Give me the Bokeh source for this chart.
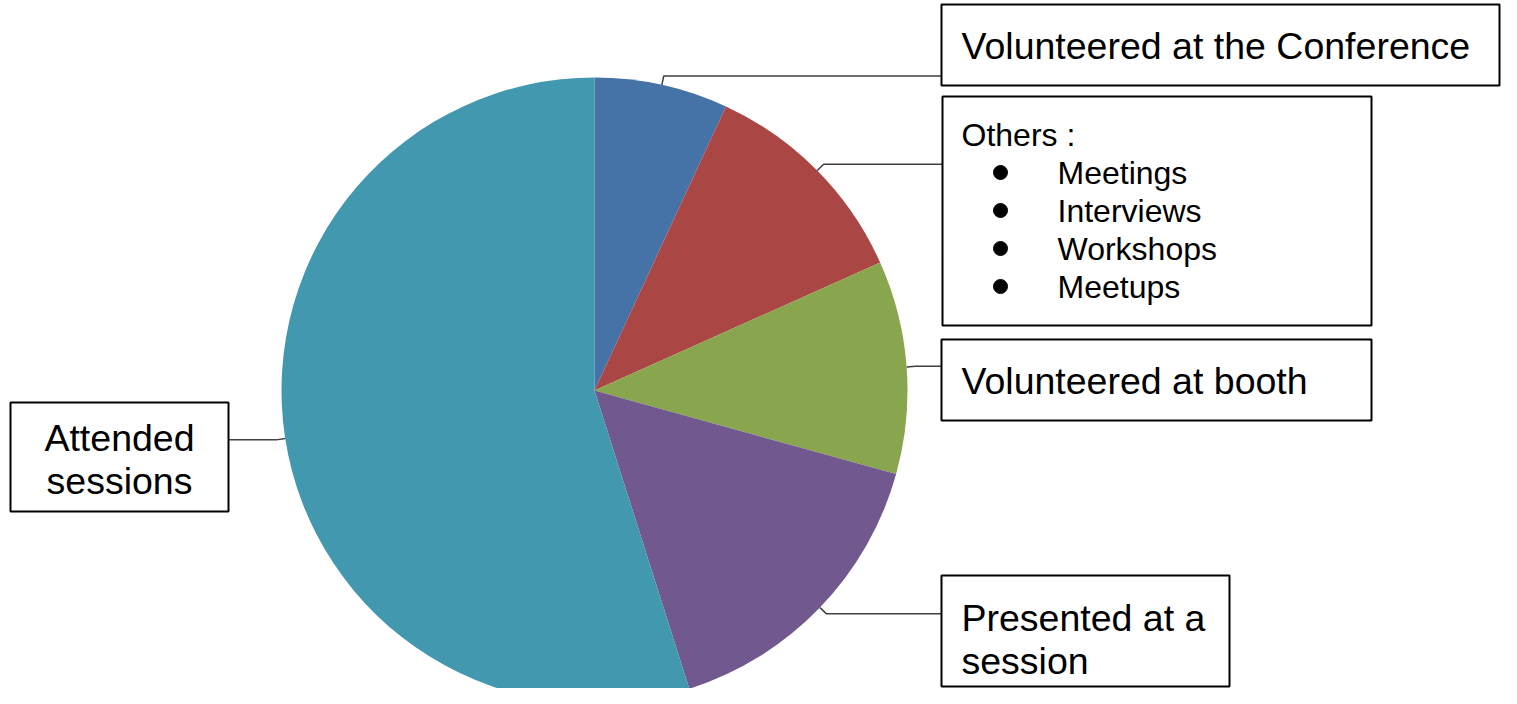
import math
from bokeh.plotting import figure
from bokeh.models import Range1d
from bokeh.core.properties import value
from bokeh.embed import file_html
from bokeh.resources import INLINE

# ---- data ----
categories = ["Volunteered at the Conference", "Others", "Volunteered at booth",
              "Presented at a session", "Attended sessions"]
values = [6.9, 11.4, 11.0, 15.8, 54.9]
colors = ["#4572A7", "#AA4643", "#89A54E", "#71588F", "#4198AF"]
others_items = ["Meetings", "Interviews", "Workshops", "Meetups"]

# ---- layout (pixel space) ----
W, H = 1501, 688
p = figure(width=W, height=H, x_range=Range1d(0, W), y_range=Range1d(H, 0),
           output_backend="svg", toolbar_location=None, min_border=0)
p.axis.visible = False
p.grid.visible = False
p.outline_line_color = None
p.background_fill_color = "white"

cx, cy = 594, 390
R = 313

total = sum(values)
cum = 0.0
starts, ends, mids = [], [], []
for v in values:
    f0 = cum / total
    cum += v
    f1 = cum / total
    starts.append(math.pi / 2 - 2 * math.pi * f1)
    ends.append(math.pi / 2 - 2 * math.pi * f0)
    mids.append(2 * math.pi * (f0 + f1) / 2)  # clockwise from top

p.wedge(x=[cx] * len(values), y=[cy] * len(values), radius=R, radius_units="screen",
        start_angle=starts, end_angle=ends, fill_color=colors, line_color=None)

# label boxes: (left, right, top, bottom)
boxes = {
    "Volunteered at the Conference": (941, 1499, 4, 85),
    "Others": (942, 1371, 96, 325),
    "Volunteered at booth": (941, 1371, 339, 420),
    "Presented at a session": (941, 1229, 575, 686),
    "Attended sessions": (10, 228, 402, 511),
}

# leader lines
for cat, m in zip(categories, mids):
    ax = cx + R * math.sin(m)
    ay = cy - R * math.cos(m)
    ex = ax + 9 * math.sin(m)
    ey = ay - 9 * math.cos(m)
    l, r, t, b = boxes[cat]
    bx = l if ex < l else r
    if ey < t + 4 or ey > b - 4:
        ey = min(max(ey, t + 10), b - 10)
    p.line([ax, ex, bx], [ay, ey, ey], line_color="#404040", line_width=1.5)

for cat in categories:
    l, r, t, b = boxes[cat]
    p.quad(left=[l], right=[r], top=[t], bottom=[b], fill_color="white",
           line_color="black", line_width=2)

font = value("Liberation Sans")
big = "37.5px"
small = "32px"

p.text(x=[961], y=[45], text=["Volunteered at the Conference"], text_font=font,
       text_font_size=big, text_baseline="middle", text_align="left", text_color="black")
p.text(x=[961], y=[380], text=["Volunteered at booth"], text_font=font,
       text_font_size=big, text_baseline="middle", text_align="left", text_color="black")
p.text(x=[961, 961], y=[617, 660], text=["Presented at a", "session"], text_font=font,
       text_font_size=big, text_baseline="middle", text_align="left", text_color="black")
p.text(x=[119, 119], y=[437, 480], text=["Attended", "sessions"], text_font=font,
       text_font_size=big, text_baseline="middle", text_align="center", text_color="black")

p.text(x=[961], y=[134], text=["Others :"], text_font=font, text_font_size=small,
       text_baseline="middle", text_align="left", text_color="black")
item_y = [172, 210, 248, 286]
p.scatter(x=[1000] * len(others_items), y=item_y, size=14, marker="circle",
          fill_color="black", line_color="black")
p.text(x=[1057] * len(others_items), y=item_y, text=others_items, text_font=font,
       text_font_size=small, text_baseline="middle", text_align="left", text_color="black")

open("out.html", "w").write(file_html(p, INLINE))
